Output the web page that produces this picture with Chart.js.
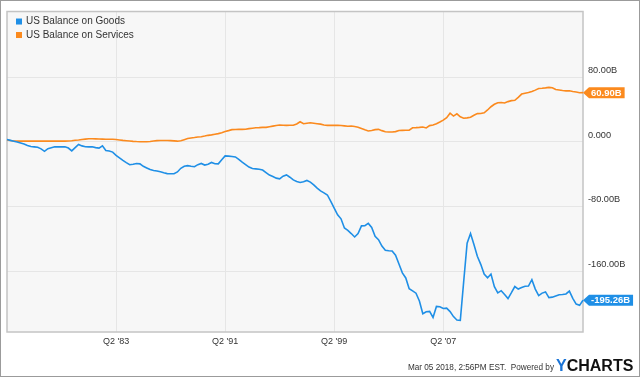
<!DOCTYPE html>
<html>
<head>
<meta charset="utf-8">
<script src="https://cdn.jsdelivr.net/npm/chart.js@4.4.1/dist/chart.umd.min.js"></script>
<style>
  html, body { margin: 0; padding: 0; background: #fff; }
  #wrap { width: 640px; height: 377px; box-sizing: border-box; border: 1px solid #9b9b9b; }
  canvas { display: block; }
</style>
</head>
<body>
<div id="wrap"><canvas id="chart" width="638" height="375"></canvas></div>
<script>
// quarterly, Q2 1975 .. Q3 2017
const quarters = [];
for (let y = 1975; y <= 2017; y++) {
    for (let q = 1; q <= 4; q++) {
        if ((y === 1975 && q < 2) || (y === 2017 && q > 3)) continue;
        quarters.push('Q' + q + " '" + String(y).slice(2));
    }
}

const xTickLabels = ["Q2 '83", "Q2 '91", "Q2 '99", "Q2 '07"];
const yTicks = [-160, -80, 0, 80];
const yTickLabels = ['-160.00B', '-80.00B', '0.000', '80.00B'];

const goodsBalance = [
    3.0, 2.0, 1.0, 0, -1.3, -2.5, -4.2, -5.6, -6.0, -6.6,
    -8.5, -11.5, -8.2, -7.0, -6.0, -5.8, -6.0, -6.0, -7.5, -11.0,
    -7.0, -3.0, -4.8, -5.8, -6.0, -6.0, -7.0, -7.5, -4.8, -10.5,
    -11.2, -12.5, -16.5, -19.5, -22.8, -25.5, -28.0, -27.5, -26.5, -27.0,
    -30.0, -32.0, -34.0, -35.3, -35.8, -36.8, -38.0, -39.0, -39.2, -39.2,
    -37.0, -32.5, -30.0, -29.2, -30.0, -30.5, -28.0, -26.5, -28.5, -27.5,
    -25.3, -26.8, -27.0, -22.0, -17.2, -17.5, -18.0, -18.5, -21.5, -25.0,
    -28.0, -31.0, -32.8, -33.2, -33.7, -34.6, -37.7, -40.8, -42.7, -44.6,
    -45.5, -42.2, -40.6, -43.5, -46.8, -48.7, -49.9, -49.1, -47.5, -49.5,
    -52.9, -57.0, -60.3, -62.8, -65.4, -73.3, -81.5, -89.9, -94.8, -106.2,
    -109.0, -113.0, -117.2, -113.0, -103.5, -103.3, -100.5, -105.5, -116.5, -120.5,
    -128.5, -133.7, -134.3, -134.5, -139.8, -150.5, -161.5, -167.8, -181.0, -183.7,
    -186.6, -196.2, -212.0, -209.5, -209.0, -216.5, -203.0, -203.4, -205.5, -205.0,
    -209.3, -215.5, -219.7, -220.2, -172.0, -125.0, -113.0, -126.5, -141.0, -151.0,
    -163.0, -167.5, -163.0, -178.5, -186.2, -183.5, -188.2, -193.2, -186.0, -178.4,
    -181.5, -179.5, -178.0, -177.8, -170.0, -181.5, -189.5, -186.5, -185.0, -192.0,
    -191.5, -190.0, -188.5, -188.2, -187.5, -184.0, -193.0, -200.0, -201.6, -195.26
];

const servicesBalance = [
    2.5, 1.8, 1.3, 1.0, 1.0, 1.0, 1.0, 1.0, 1.0, 1.0,
    1.0, 1.0, 1.0, 1.0, 1.0, 1.0, 1.0, 1.1, 1.2, 1.5,
    2.2, 2.5, 3.0, 3.5, 3.9, 3.9, 3.8, 3.6, 3.5, 3.4,
    3.4, 3.3, 3.0, 2.5, 2.0, 1.6, 1.2, 0.8, 0.5, 0.3,
    0.2, 0.2, 0.6, 1.2, 1.7, 1.8, 1.8, 1.8, 1.7, 1.4,
    1.0, 1.5, 2.8, 4.2, 5.0, 5.5, 6.1, 6.5, 7.3, 8.2,
    8.8, 9.6, 10.3, 11.5, 13.0, 14.0, 15.2, 15.4, 15.5, 15.6,
    15.8, 16.5, 17.0, 17.5, 17.7, 18.0, 18.0, 18.8, 19.6, 20.4,
    20.9, 20.7, 20.5, 20.6, 20.6, 22.2, 25.0, 22.5, 23.2, 23.8,
    23.2, 22.6, 22.0, 21.0, 20.5, 20.5, 20.5, 20.5, 20.3, 19.9,
    19.5, 19.7, 19.0, 18.3, 16.6, 15.0, 13.6, 14.2, 15.2, 15.6,
    14.0, 12.7, 12.4, 12.4, 12.8, 14.2, 14.3, 14.4, 14.5, 17.5,
    17.7, 18.0, 18.5, 17.3, 20.2, 21.0, 22.5, 24.6, 27.0, 30.0,
    35.5, 32.0, 34.7, 31.0, 29.3, 29.8, 30.5, 33.0, 35.0, 35.1,
    36.0, 39.5, 43.5, 46.5, 48.5, 48.8, 48.1, 49.8, 51.0, 51.4,
    55.0, 59.1, 60.2, 61.1, 62.3, 64.0, 66.0, 66.3, 66.8, 67.4,
    67.0, 64.7, 64.1, 63.5, 63.1, 63.2, 62.4, 61.7, 60.8, 60.9
];

const FONT = "'Liberation Sans', Arial, sans-serif";
const BLUE = '#1f8fe6';
const ORANGE = '#fb8a1e';

// grey plot background + border, legend, value tags, footer
const ychartsLook = {
    id: 'ychartsLook',
    beforeDraw(chart) {
        const { ctx, chartArea: a } = chart;
        ctx.save();
        ctx.fillStyle = '#fff';
        ctx.fillRect(0, 0, chart.width, chart.height);
        ctx.fillStyle = '#f7f7f7';
        ctx.fillRect(a.left, a.top, a.right - a.left, a.bottom - a.top);
        ctx.restore();
    },
    beforeDatasetsDraw(chart) {
        const { ctx, chartArea: a } = chart;
        ctx.save();
        ctx.strokeStyle = '#c4c4c4';
        ctx.lineWidth = 1.5;
        ctx.strokeRect(a.left, a.top, a.right - a.left, a.bottom - a.top);
        ctx.restore();
    },
    afterDraw(chart) {
        const { ctx, chartArea: a } = chart;
        const yScale = chart.scales.y;
        ctx.save();

        // legend
        ctx.font = '10px ' + FONT;
        ctx.textBaseline = 'middle';
        chart.data.datasets.forEach((ds, i) => {
            const y = a.top + 10 + i * 13.5;
            ctx.fillStyle = ds.borderColor;
            ctx.fillRect(a.left + 9, y - 3, 6, 6);
            ctx.fillStyle = '#333';
            ctx.fillText(ds.label, a.left + 19, y);
        });

        // last value tags
        ctx.font = 'bold 9.5px ' + FONT;
        chart.data.datasets.forEach(ds => {
            const v = ds.data[ds.data.length - 1];
            const y = yScale.getPixelForValue(v);
            const txt = v.toFixed(2) + 'B';
            const w = ctx.measureText(txt).width + 5;
            const x0 = a.right;
            const h = 11;
            ctx.fillStyle = ds.borderColor;
            ctx.beginPath();
            ctx.moveTo(x0, y);
            ctx.lineTo(x0 + 6, y - h / 2);
            ctx.lineTo(x0 + 6 + w, y - h / 2);
            ctx.lineTo(x0 + 6 + w, y + h / 2);
            ctx.lineTo(x0 + 6, y + h / 2);
            ctx.closePath();
            ctx.fill();
            ctx.fillStyle = '#fff';
            ctx.textAlign = 'left';
            ctx.fillText(txt, x0 + 8, y + 0.5);
        });

        // footer
        ctx.textBaseline = 'alphabetic';
        ctx.font = 'bold 16px ' + FONT;
        const logoX = 555;
        const base = 370;
        ctx.textAlign = 'left';
        ctx.fillStyle = '#1b74d6';
        ctx.fillText('Y', logoX, base);
        const yw = ctx.measureText('Y').width;
        ctx.fillStyle = '#111';
        ctx.fillText('CHARTS', logoX + yw, base);
        ctx.font = '8.2px ' + FONT;
        ctx.fillStyle = '#333';
        ctx.textAlign = 'right';
        ctx.fillText('Mar 05 2018, 2:56PM EST.  Powered by', logoX - 2, base - 1);
        ctx.restore();
    }
};

const ctx = document.getElementById('chart').getContext('2d');
const balanceChart = new Chart(ctx, {
    type: 'line',
    data: {
        labels: quarters,
        datasets: [{
            label: 'US Balance on Goods',
            data: goodsBalance,
            borderColor: BLUE,
            borderWidth: 1.6,
            pointRadius: 0,
            fill: false,
            tension: 0
        }, {
            label: 'US Balance on Services',
            data: servicesBalance,
            borderColor: ORANGE,
            borderWidth: 1.6,
            pointRadius: 0,
            fill: false,
            tension: 0
        }]
    },
    options: {
        responsive: false,
        animation: false,
        devicePixelRatio: 1,
        layout: { padding: { left: 6, top: 6, right: 0, bottom: 0 } },
        plugins: {
            legend: { display: false },
            tooltip: { enabled: false }
        },
        scales: {
            x: {
                offset: false,
                afterBuildTicks: s => {
                    s.ticks = s.ticks.filter(t => xTickLabels.includes(quarters[t.value]));
                },
                afterFit: s => { s.height = 44; },
                grid: { color: '#e6e6e6', drawTicks: false },
                border: { display: false },
                ticks: {
                    autoSkip: false,
                    maxRotation: 0,
                    padding: 4,
                    color: '#333',
                    font: { family: FONT, size: 9 }
                }
            },
            y: {
                position: 'right',
                min: -234.5,
                max: 161,
                afterBuildTicks: s => {
                    s.ticks = yTicks.map(v => ({ value: v }));
                },
                afterFit: s => { s.width = 56; },
                grid: { color: '#e6e6e6', drawTicks: false },
                border: { display: false },
                ticks: {
                    padding: 5,
                    labelOffset: -7,
                    color: '#333',
                    font: { family: FONT, size: 9.2 },
                    callback: v => yTickLabels[yTicks.indexOf(v)]
                }
            }
        }
    },
    plugins: [ychartsLook]
});
</script>
</body>
</html>
